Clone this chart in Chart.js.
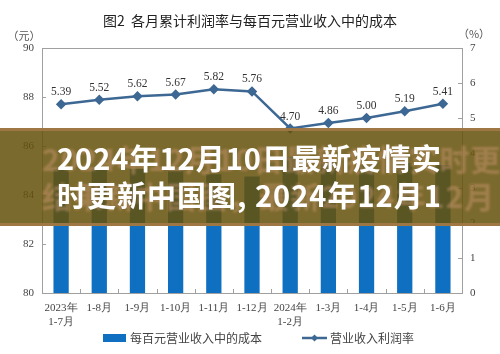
<!DOCTYPE html>
<html lang="zh">
<head>
<meta charset="UTF-8">
<title>各月累计利润率与每百元营业收入中的成本</title>
<script src="https://cdn.jsdelivr.net/npm/chart.js"></script>
<style>
    html, body {
        margin: 0;
        padding: 0;
        background: #ffffff;
    }
    #wrap {
        position: relative;
        width: 500px;
        height: 354px;
        overflow: hidden;
    }
    #banner {
        position: absolute;
        left: 0;
        top: 128px;
        width: 500px;
        height: 98px;
        background: rgba(101, 82, 10, 0.86);
        border-top: 3px solid rgba(160, 120, 70, 0.95);
        border-bottom: 3px solid rgba(160, 120, 70, 0.95);
        box-sizing: border-box;
        overflow: hidden;
    }
    .btext {
        position: absolute;
        left: 57px;
        white-space: nowrap;
        font-family: "Noto Sans CJK SC", sans-serif;
        font-weight: bold;
        font-size: 29px;
        letter-spacing: 1px;
        line-height: 37px;
    }
    #ghost {
        color: rgba(200, 150, 110, 0.5);
        left: 42px;
        top: 9px;
        font-size: 30px;
        filter: blur(1px);
    }
    #front {
        color: #ffffff;
        top: 8px;
    }
</style>
</head>
<body>
<div id="wrap">
    <canvas id="chart" width="500" height="354"></canvas>
    <div id="banner">
        <div id="ghost" class="btext">2024年12月10日最新疫情实时更新<br>结果新中国图，最新2024年12月</div>
        <div id="front" class="btext">2024年12月10日最新疫情实<br>时更新中国图, 2024年12月1</div>
    </div>
</div>
<script>
    const titleText = '图2  各月累计利润率与每百元营业收入中的成本';
    const categories = [
        ['2023年', '1-7月'], '1-8月', '1-9月', '1-10月', '1-11月', '1-12月',
        ['2024年', '1-2月'], '1-3月', '1-4月', '1-5月', '1-6月'
    ];
    const costValues = [85.06, 85.05, 85.06, 84.99, 84.85, 84.76, 85.56, 85.40, 85.22, 85.31, 85.22];
    const profitRate = [5.39, 5.52, 5.62, 5.67, 5.82, 5.76, 4.70, 4.86, 5.00, 5.19, 5.41];
    const leftTicks = [80, 82, 84, 86, 88, 90];
    const rightTicks = [0, 1, 2, 3, 4, 5, 6, 7];
    const costLabel = '每百元营业收入中的成本';
    const rateLabel = '营业收入利润率';

    const barColor = '#0f6fc0';
    const lineColor = '#3d6894';
    const axisColor = '#a0a0a0';
    const serif = '"Liberation Serif", "Times New Roman", serif';
    const cjk = '"Noto Sans CJK SC", sans-serif';

    const decorPlugin = {
        id: 'decor',
        afterDraw(chart) {
            const ctx = chart.ctx;
            const a = chart.chartArea;
            const y = chart.scales.y;
            const y1 = chart.scales.y1;
            ctx.save();

            // frame
            ctx.strokeStyle = axisColor;
            ctx.lineWidth = 1;
            ctx.strokeRect(a.left + 0.5, a.top + 0.5, a.right - a.left, a.bottom - a.top);

            // inner ticks
            ctx.beginPath();
            leftTicks.forEach(v => {
                const py = Math.round(y.getPixelForValue(v)) + 0.5;
                ctx.moveTo(a.left, py);
                ctx.lineTo(a.left + 4, py);
            });
            rightTicks.forEach(v => {
                const py = Math.round(y1.getPixelForValue(v)) + 0.5;
                ctx.moveTo(a.right - 4, py);
                ctx.lineTo(a.right, py);
            });
            const step = (a.right - a.left) / categories.length;
            for (let i = 1; i < categories.length; i++) {
                const px = Math.round(a.left + i * step) + 0.5;
                ctx.moveTo(px, a.bottom);
                ctx.lineTo(px, a.bottom - 4);
            }
            ctx.stroke();

            // title
            ctx.fillStyle = '#222222';
            ctx.font = '14px ' + cjk;
            ctx.textAlign = 'center';
            ctx.textBaseline = 'middle';
            ctx.fillText(titleText, 250, 21);

            // unit labels
            ctx.font = '11px ' + cjk;
            ctx.fillStyle = '#555555';
            ctx.fillText('（元）', 24, 36);
            ctx.fillText('（%）', 474, 34);

            // data labels on line
            const meta = chart.getDatasetMeta(1);
            ctx.font = '11.5px ' + serif;
            ctx.fillStyle = '#333333';
            ctx.textBaseline = 'alphabetic';
            meta.data.forEach((pt, i) => {
                ctx.fillText(profitRate[i].toFixed(2), pt.x, pt.y - 9);
            });

            // legend
            const ly = 338;
            ctx.fillStyle = barColor;
            ctx.fillRect(103, ly - 4, 23, 8);
            ctx.fillStyle = '#444444';
            ctx.font = '12px ' + cjk;
            ctx.textAlign = 'left';
            ctx.textBaseline = 'middle';
            ctx.fillText(costLabel, 130, ly);

            ctx.strokeStyle = lineColor;
            ctx.lineWidth = 2.5;
            ctx.beginPath();
            ctx.moveTo(302, ly);
            ctx.lineTo(327, ly);
            ctx.stroke();
            ctx.fillStyle = lineColor;
            ctx.beginPath();
            ctx.moveTo(314.5, ly - 3.5);
            ctx.lineTo(318, ly);
            ctx.lineTo(314.5, ly + 3.5);
            ctx.lineTo(311, ly);
            ctx.closePath();
            ctx.fill();
            ctx.fillStyle = '#444444';
            ctx.fillText(rateLabel, 330, ly);

            ctx.restore();
        }
    };

    new Chart(document.getElementById('chart').getContext('2d'), {
        data: {
            labels: categories,
            datasets: [
                {
                    type: 'bar',
                    label: costLabel,
                    data: costValues,
                    backgroundColor: barColor,
                    yAxisID: 'y',
                    categoryPercentage: 1,
                    barPercentage: 0.4,
                    order: 2
                },
                {
                    type: 'line',
                    label: rateLabel,
                    data: profitRate,
                    borderColor: lineColor,
                    backgroundColor: lineColor,
                    borderWidth: 2.5,
                    pointStyle: 'rectRot',
                    pointRadius: 3.5,
                    tension: 0,
                    yAxisID: 'y1',
                    order: 1
                }
            ]
        },
        options: {
            responsive: false,
            animation: false,
            layout: { padding: { top: 48, left: 0, right: 0, bottom: 0 } },
            plugins: {
                legend: { display: false },
                tooltip: { enabled: false }
            },
            scales: {
                x: {
                    grid: { display: false, drawTicks: false },
                    border: { display: false },
                    ticks: {
                        color: '#444444',
                        font: { family: serif, size: 11 },
                        padding: 9,
                        maxRotation: 0,
                        autoSkip: false
                    },
                    afterFit(s) { s.height = 61; }
                },
                y: {
                    position: 'left',
                    min: 80,
                    max: 90,
                    afterBuildTicks(s) { s.ticks = leftTicks.map(v => ({ value: v })); },
                    grid: { display: false, drawTicks: false },
                    border: { display: false },
                    ticks: {
                        color: '#444444',
                        font: { family: serif, size: 11 },
                        padding: 8
                    },
                    afterFit(s) { s.width = 42; }
                },
                y1: {
                    position: 'right',
                    min: 0,
                    max: 7,
                    afterBuildTicks(s) { s.ticks = rightTicks.map(v => ({ value: v })); },
                    grid: { display: false, drawTicks: false },
                    border: { display: false },
                    ticks: {
                        color: '#444444',
                        font: { family: serif, size: 11 },
                        padding: 8
                    },
                    afterFit(s) { s.width = 38; }
                }
            }
        },
        plugins: [decorPlugin]
    });
</script>
</body>
</html>
